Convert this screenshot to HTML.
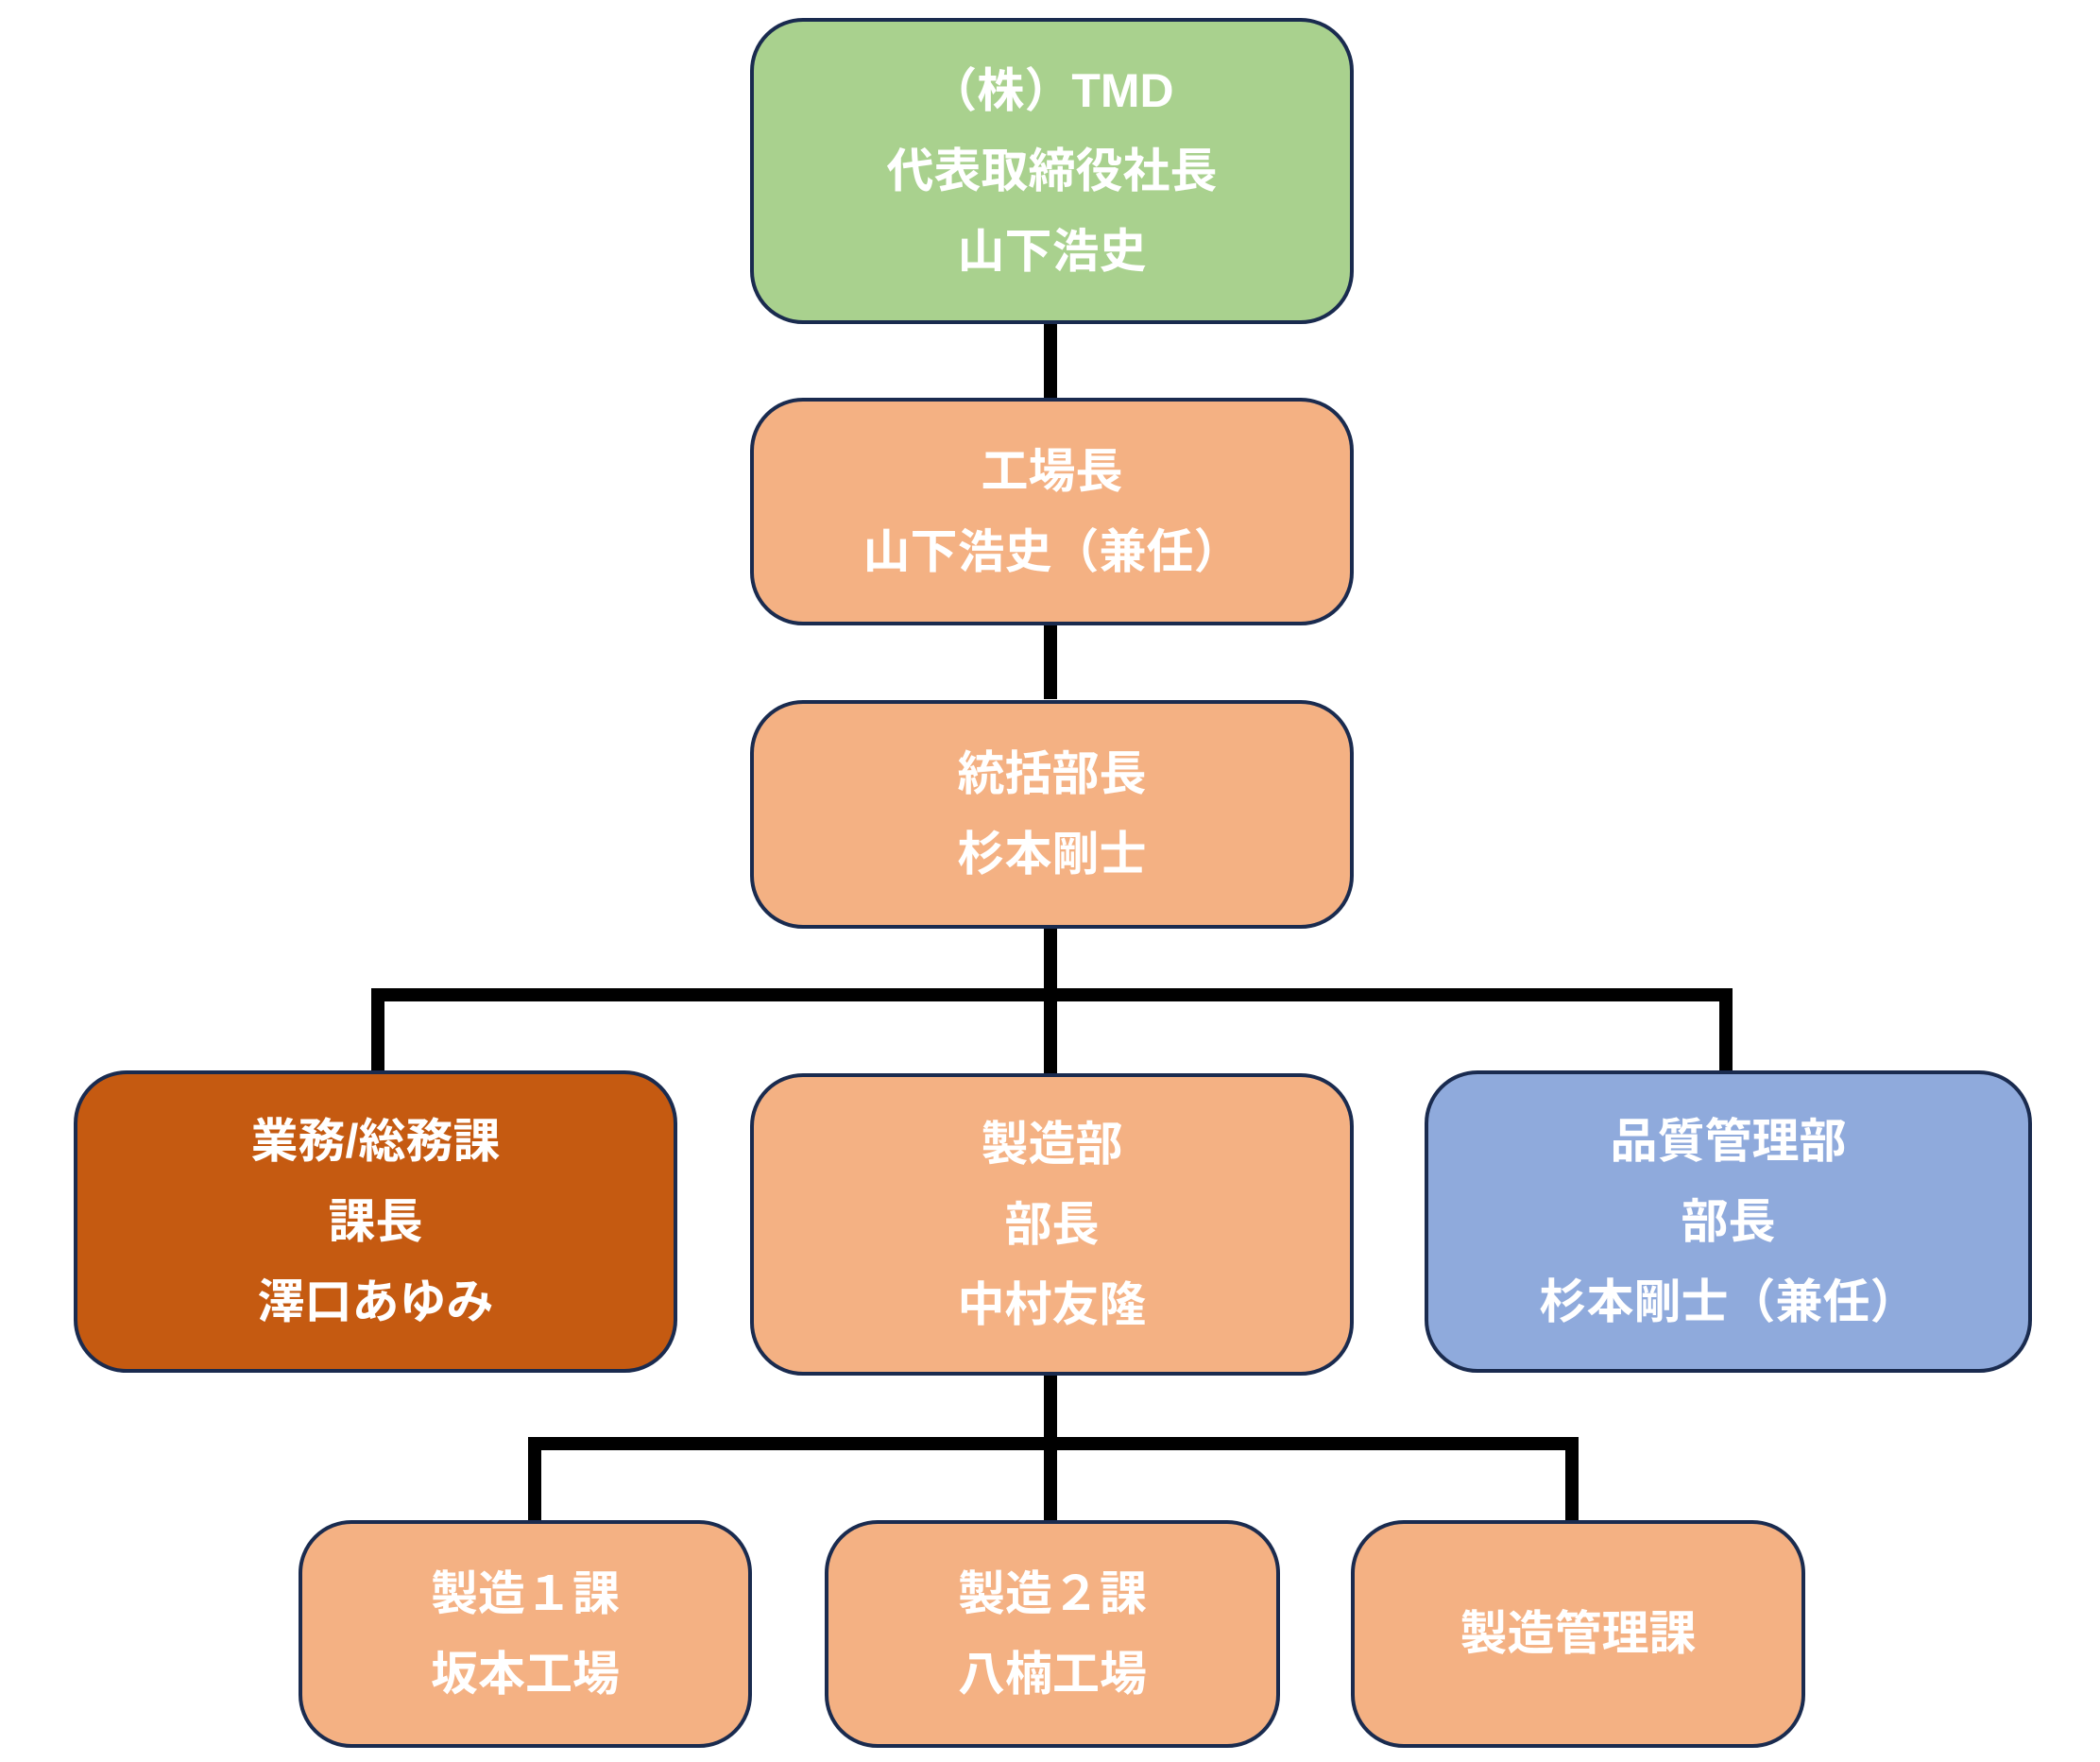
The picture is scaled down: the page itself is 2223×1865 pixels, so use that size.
<!DOCTYPE html>
<html><head><meta charset="utf-8"><style>
body{margin:0;width:2223px;height:1865px;background:#fff;position:relative;overflow:hidden;font-family:"Liberation Sans","Noto Sans CJK JP",sans-serif;}
.b{position:absolute;box-sizing:border-box;border:4px solid #1a2b4f;border-radius:56px;display:flex;flex-direction:column;justify-content:center;align-items:center;color:#fff;font-weight:bold;font-size:50px;line-height:85px;text-align:center;}
.o{background:#f4b183}.g{background:#a9d18e}.d{background:#c55a11}.u{background:#8faadc}
.l{position:absolute;background:#000;}
</style></head><body>
<div class="l" style="left:1105px;top:336px;width:14px;height:86px"></div>
<div class="l" style="left:1105px;top:654px;width:14px;height:86px"></div>
<div class="l" style="left:1105px;top:976px;width:14px;height:160px"></div>
<div class="l" style="left:393px;top:1046px;width:1441px;height:14px"></div>
<div class="l" style="left:393px;top:1046px;width:14px;height:98px"></div>
<div class="l" style="left:1820px;top:1046px;width:14px;height:98px"></div>
<div class="l" style="left:1105px;top:1447px;width:14px;height:165px"></div>
<div class="l" style="left:559px;top:1521px;width:1112px;height:14px"></div>
<div class="l" style="left:559px;top:1521px;width:14px;height:90px"></div>
<div class="l" style="left:1657px;top:1521px;width:14px;height:90px"></div>

<div class="b g" style="left:794px;top:19px;width:639px;height:324px">（株）TMD<br>代表取締役社長<br>山下浩史</div>
<div class="b o" style="left:794px;top:421px;width:639px;height:241px">工場長<br>山下浩史（兼任）</div>
<div class="b o" style="left:794px;top:741px;width:639px;height:242px">統括部長<br>杉本剛士</div>
<div class="b d" style="left:78px;top:1133px;width:639px;height:320px">業務/総務課<br>課長<br>澤口あゆみ</div>
<div class="b o" style="left:794px;top:1136px;width:639px;height:320px">製造部<br>部長<br>中村友隆</div>
<div class="b u" style="left:1508px;top:1133px;width:643px;height:320px">品質管理部<br>部長<br>杉本剛士（兼任）</div>
<div class="b o" style="left:316px;top:1609px;width:480px;height:241px">製造１課<br>坂本工場</div>
<div class="b o" style="left:873px;top:1609px;width:482px;height:241px">製造２課<br>八楠工場</div>
<div class="b o" style="left:1430px;top:1609px;width:481px;height:241px">製造管理課</div>
</body></html>
